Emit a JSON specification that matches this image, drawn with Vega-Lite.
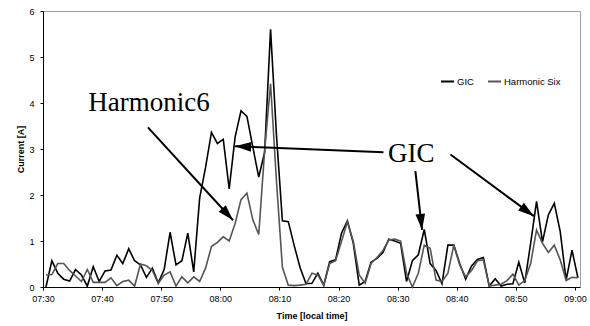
{
  "$schema": "https://vega.github.io/schema/vega-lite/v6.json",
  "width": 537,
  "height": 276,
  "autosize": "none",
  "padding": {"left": 43, "top": 11, "right": 10, "bottom": 39},
  "background": "white",
  "config": {"view": {"stroke": "#a0a0a0", "strokeWidth": 1}, "font": "Liberation Sans"},
  "data": {
    "values": [
      {"time": "2000-01-01T07:30:30", "GIC": 0.00, "Harmonic Six": 0.26},
      {"time": "2000-01-01T07:31:30", "GIC": 0.57, "Harmonic Six": 0.27},
      {"time": "2000-01-01T07:32:30", "GIC": 0.30, "Harmonic Six": 0.51},
      {"time": "2000-01-01T07:33:30", "GIC": 0.17, "Harmonic Six": 0.51},
      {"time": "2000-01-01T07:34:30", "GIC": 0.13, "Harmonic Six": 0.36},
      {"time": "2000-01-01T07:35:30", "GIC": 0.38, "Harmonic Six": 0.24},
      {"time": "2000-01-01T07:36:30", "GIC": 0.26, "Harmonic Six": 0.12},
      {"time": "2000-01-01T07:37:30", "GIC": 0.02, "Harmonic Six": 0.38},
      {"time": "2000-01-01T07:38:30", "GIC": 0.44, "Harmonic Six": 0.10},
      {"time": "2000-01-01T07:39:30", "GIC": 0.12, "Harmonic Six": 0.10},
      {"time": "2000-01-01T07:40:30", "GIC": 0.35, "Harmonic Six": 0.10},
      {"time": "2000-01-01T07:41:30", "GIC": 0.37, "Harmonic Six": 0.20},
      {"time": "2000-01-01T07:42:30", "GIC": 0.69, "Harmonic Six": 0.03},
      {"time": "2000-01-01T07:43:30", "GIC": 0.51, "Harmonic Six": 0.12},
      {"time": "2000-01-01T07:44:30", "GIC": 0.83, "Harmonic Six": 0.15},
      {"time": "2000-01-01T07:45:30", "GIC": 0.57, "Harmonic Six": 0.02},
      {"time": "2000-01-01T07:46:30", "GIC": 0.48, "Harmonic Six": 0.50},
      {"time": "2000-01-01T07:47:30", "GIC": 0.21, "Harmonic Six": 0.46},
      {"time": "2000-01-01T07:48:30", "GIC": 0.41, "Harmonic Six": 0.36},
      {"time": "2000-01-01T07:49:30", "GIC": 0.09, "Harmonic Six": 0.08},
      {"time": "2000-01-01T07:50:30", "GIC": 0.38, "Harmonic Six": 0.26},
      {"time": "2000-01-01T07:51:30", "GIC": 1.19, "Harmonic Six": 0.33},
      {"time": "2000-01-01T07:52:30", "GIC": 0.48, "Harmonic Six": 0.02},
      {"time": "2000-01-01T07:53:30", "GIC": 0.57, "Harmonic Six": 0.22},
      {"time": "2000-01-01T07:54:30", "GIC": 1.17, "Harmonic Six": 0.09},
      {"time": "2000-01-01T07:55:30", "GIC": 0.33, "Harmonic Six": 0.22},
      {"time": "2000-01-01T07:56:30", "GIC": 1.93, "Harmonic Six": 0.12},
      {"time": "2000-01-01T07:57:30", "GIC": 2.60, "Harmonic Six": 0.41},
      {"time": "2000-01-01T07:58:30", "GIC": 3.36, "Harmonic Six": 0.88},
      {"time": "2000-01-01T07:59:30", "GIC": 3.12, "Harmonic Six": 0.97},
      {"time": "2000-01-01T08:00:30", "GIC": 3.21, "Harmonic Six": 1.09},
      {"time": "2000-01-01T08:01:30", "GIC": 2.13, "Harmonic Six": 1.00},
      {"time": "2000-01-01T08:02:30", "GIC": 3.26, "Harmonic Six": 1.38},
      {"time": "2000-01-01T08:03:30", "GIC": 3.83, "Harmonic Six": 1.90},
      {"time": "2000-01-01T08:04:30", "GIC": 3.71, "Harmonic Six": 2.04},
      {"time": "2000-01-01T08:05:30", "GIC": 3.04, "Harmonic Six": 1.46},
      {"time": "2000-01-01T08:06:30", "GIC": 2.39, "Harmonic Six": 1.14},
      {"time": "2000-01-01T08:07:30", "GIC": 2.93, "Harmonic Six": 2.97},
      {"time": "2000-01-01T08:08:30", "GIC": 5.60, "Harmonic Six": 4.42},
      {"time": "2000-01-01T08:09:30", "GIC": 3.30, "Harmonic Six": 2.30},
      {"time": "2000-01-01T08:10:30", "GIC": 1.44, "Harmonic Six": 0.43},
      {"time": "2000-01-01T08:11:30", "GIC": 1.42, "Harmonic Six": 0.04},
      {"time": "2000-01-01T08:12:30", "GIC": 0.90, "Harmonic Six": 0.03},
      {"time": "2000-01-01T08:13:30", "GIC": 0.42, "Harmonic Six": 0.04},
      {"time": "2000-01-01T08:14:30", "GIC": 0.07, "Harmonic Six": 0.06},
      {"time": "2000-01-01T08:15:30", "GIC": 0.08, "Harmonic Six": 0.30},
      {"time": "2000-01-01T08:16:30", "GIC": 0.30, "Harmonic Six": 0.26},
      {"time": "2000-01-01T08:17:30", "GIC": 0.04, "Harmonic Six": 0.04},
      {"time": "2000-01-01T08:18:30", "GIC": 0.55, "Harmonic Six": 0.51},
      {"time": "2000-01-01T08:19:30", "GIC": 0.59, "Harmonic Six": 0.57},
      {"time": "2000-01-01T08:20:30", "GIC": 1.17, "Harmonic Six": 0.99},
      {"time": "2000-01-01T08:21:30", "GIC": 1.44, "Harmonic Six": 1.42},
      {"time": "2000-01-01T08:22:30", "GIC": 0.95, "Harmonic Six": 0.99},
      {"time": "2000-01-01T08:23:30", "GIC": 0.04, "Harmonic Six": 0.26},
      {"time": "2000-01-01T08:24:30", "GIC": 0.12, "Harmonic Six": 0.08},
      {"time": "2000-01-01T08:25:30", "GIC": 0.54, "Harmonic Six": 0.51},
      {"time": "2000-01-01T08:26:30", "GIC": 0.62, "Harmonic Six": 0.64},
      {"time": "2000-01-01T08:27:30", "GIC": 0.75, "Harmonic Six": 0.79},
      {"time": "2000-01-01T08:28:30", "GIC": 1.04, "Harmonic Six": 1.02},
      {"time": "2000-01-01T08:29:30", "GIC": 1.00, "Harmonic Six": 1.04},
      {"time": "2000-01-01T08:30:30", "GIC": 0.95, "Harmonic Six": 1.00},
      {"time": "2000-01-01T08:31:30", "GIC": 0.12, "Harmonic Six": 0.30},
      {"time": "2000-01-01T08:32:30", "GIC": 0.57, "Harmonic Six": 0.00},
      {"time": "2000-01-01T08:33:30", "GIC": 0.70, "Harmonic Six": 0.30},
      {"time": "2000-01-01T08:34:30", "GIC": 1.25, "Harmonic Six": 0.91},
      {"time": "2000-01-01T08:35:30", "GIC": 0.51, "Harmonic Six": 0.84},
      {"time": "2000-01-01T08:36:30", "GIC": 0.36, "Harmonic Six": 0.15},
      {"time": "2000-01-01T08:37:30", "GIC": 0.07, "Harmonic Six": 0.12},
      {"time": "2000-01-01T08:38:30", "GIC": 0.91, "Harmonic Six": 0.30},
      {"time": "2000-01-01T08:39:30", "GIC": 0.91, "Harmonic Six": 0.91},
      {"time": "2000-01-01T08:40:30", "GIC": 0.51, "Harmonic Six": 0.48},
      {"time": "2000-01-01T08:41:30", "GIC": 0.17, "Harmonic Six": 0.22},
      {"time": "2000-01-01T08:42:30", "GIC": 0.46, "Harmonic Six": 0.36},
      {"time": "2000-01-01T08:43:30", "GIC": 0.60, "Harmonic Six": 0.57},
      {"time": "2000-01-01T08:44:30", "GIC": 0.64, "Harmonic Six": 0.59},
      {"time": "2000-01-01T08:45:30", "GIC": 0.02, "Harmonic Six": 0.02},
      {"time": "2000-01-01T08:46:30", "GIC": 0.18, "Harmonic Six": 0.04},
      {"time": "2000-01-01T08:47:30", "GIC": 0.02, "Harmonic Six": 0.06},
      {"time": "2000-01-01T08:48:30", "GIC": 0.06, "Harmonic Six": 0.14},
      {"time": "2000-01-01T08:49:30", "GIC": 0.07, "Harmonic Six": 0.28},
      {"time": "2000-01-01T08:50:30", "GIC": 0.54, "Harmonic Six": 0.04},
      {"time": "2000-01-01T08:51:30", "GIC": 0.09, "Harmonic Six": 0.14},
      {"time": "2000-01-01T08:52:30", "GIC": 0.95, "Harmonic Six": 0.51},
      {"time": "2000-01-01T08:53:30", "GIC": 1.86, "Harmonic Six": 1.24},
      {"time": "2000-01-01T08:54:30", "GIC": 0.98, "Harmonic Six": 0.95},
      {"time": "2000-01-01T08:55:30", "GIC": 1.57, "Harmonic Six": 0.75},
      {"time": "2000-01-01T08:56:30", "GIC": 1.82, "Harmonic Six": 0.91},
      {"time": "2000-01-01T08:57:30", "GIC": 1.21, "Harmonic Six": 0.59},
      {"time": "2000-01-01T08:58:30", "GIC": 0.15, "Harmonic Six": 0.14},
      {"time": "2000-01-01T08:59:30", "GIC": 0.80, "Harmonic Six": 0.21},
      {"time": "2000-01-01T09:00:30", "GIC": 0.20, "Harmonic Six": 0.20}
    ]
  },
  "layer": [
    {
      "transform": [{"fold": ["GIC", "Harmonic Six"], "as": ["series", "value"]}],
      "mark": {"type": "line", "strokeWidth": 1.6},
      "encoding": {
        "x": {
          "field": "time", "type": "temporal",
          "scale": {"domain": [{"year": 2000, "month": 1, "date": 1, "hours": 7, "minutes": 30}, {"year": 2000, "month": 1, "date": 1, "hours": 9, "minutes": 0, "seconds": 51}], "nice": false},
          "axis": {
            "title": "Time [local time]", "format": "%H:%M",
            "values": [
              {"year": 2000, "month": 1, "date": 1, "hours": 7, "minutes": 30},
              {"year": 2000, "month": 1, "date": 1, "hours": 7, "minutes": 40},
              {"year": 2000, "month": 1, "date": 1, "hours": 7, "minutes": 50},
              {"year": 2000, "month": 1, "date": 1, "hours": 8, "minutes": 0},
              {"year": 2000, "month": 1, "date": 1, "hours": 8, "minutes": 10},
              {"year": 2000, "month": 1, "date": 1, "hours": 8, "minutes": 20},
              {"year": 2000, "month": 1, "date": 1, "hours": 8, "minutes": 30},
              {"year": 2000, "month": 1, "date": 1, "hours": 8, "minutes": 40},
              {"year": 2000, "month": 1, "date": 1, "hours": 8, "minutes": 50},
              {"year": 2000, "month": 1, "date": 1, "hours": 9, "minutes": 0}
            ],
            "labelFont": "Liberation Sans", "labelFontSize": 9, "labelColor": "#000", "labelPadding": 4,
            "labelFlush": false, "labelOverlap": false,
            "tickSize": 3, "tickColor": "#000", "domainColor": "#000", "grid": false,
            "titleFont": "Liberation Sans", "titleFontSize": 9, "titleFontWeight": "bold", "titleColor": "#000", "titlePadding": 8
          }
        },
        "y": {
          "field": "value", "type": "quantitative",
          "scale": {"domain": [0, 6], "nice": false},
          "axis": {
            "title": "Current [A]", "values": [0, 1, 2, 3, 4, 5, 6],
            "labelFont": "Liberation Sans", "labelFontSize": 9, "labelColor": "#000", "labelPadding": 6,
            "tickSize": 3, "tickColor": "#000", "domainColor": "#000", "grid": false,
            "titleFont": "Liberation Sans", "titleFontSize": 9, "titleFontWeight": "bold", "titleColor": "#000", "titlePadding": 3
          }
        },
        "color": {
          "field": "series", "type": "nominal",
          "scale": {"domain": ["GIC", "Harmonic Six"], "range": ["#000000", "#555555"]},
          "legend": {
            "orient": "none", "legendX": 397, "legendY": 63, "direction": "horizontal", "title": null,
            "symbolType": "stroke", "symbolSize": 169, "symbolStrokeWidth": 2,
            "labelFont": "Liberation Sans", "labelFontSize": 9.5, "labelColor": "#000", "labelOffset": 2,
            "columnPadding": 10, "padding": 0
          }
        }
      }
    },
    {
      "data": {
        "values": [
          {"arrow": 1, "x1": "2000-01-01T07:47:45", "y1": 3.47, "x2": "2000-01-01T08:02:09", "y2": 1.45},
          {"arrow": 2, "x1": "2000-01-01T08:27:36", "y1": 2.93, "x2": "2000-01-01T08:02:30", "y2": 3.06},
          {"arrow": 3, "x1": "2000-01-01T08:33:00", "y1": 2.52, "x2": "2000-01-01T08:34:08", "y2": 1.24},
          {"arrow": 4, "x1": "2000-01-01T08:38:56", "y1": 2.88, "x2": "2000-01-01T08:53:03", "y2": 1.54}
        ]
      },
      "layer": [
        {
          "mark": {"type": "rule", "color": "#000", "strokeWidth": 2},
          "encoding": {
            "x": {"field": "x1", "type": "temporal"},
            "y": {"field": "y1", "type": "quantitative"},
            "x2": {"field": "x2"},
            "y2": {"field": "y2"}
          }
        },
        {
          "transform": [{"filter": "datum.arrow == 1"}],
          "mark": {"type": "point", "shape": "M0,0L-0.6,2L0.6,2Z", "filled": true, "color": "#000", "opacity": 1, "size": 256, "angle": 137.6},
          "encoding": {"x": {"field": "x2", "type": "temporal"}, "y": {"field": "y2", "type": "quantitative"}}
        },
        {
          "transform": [{"filter": "datum.arrow == 2"}],
          "mark": {"type": "point", "shape": "M0,0L-0.6,2L0.6,2Z", "filled": true, "color": "#000", "opacity": 1, "size": 256, "angle": 272.3},
          "encoding": {"x": {"field": "x2", "type": "temporal"}, "y": {"field": "y2", "type": "quantitative"}}
        },
        {
          "transform": [{"filter": "datum.arrow == 3"}],
          "mark": {"type": "point", "shape": "M0,0L-0.6,2L0.6,2Z", "filled": true, "color": "#000", "opacity": 1, "size": 256, "angle": 173.5},
          "encoding": {"x": {"field": "x2", "type": "temporal"}, "y": {"field": "y2", "type": "quantitative"}}
        },
        {
          "transform": [{"filter": "datum.arrow == 4"}],
          "mark": {"type": "point", "shape": "M0,0L-0.6,2L0.6,2Z", "filled": true, "color": "#000", "opacity": 1, "size": 256, "angle": 126.5},
          "encoding": {"x": {"field": "x2", "type": "temporal"}, "y": {"field": "y2", "type": "quantitative"}}
        }
      ]
    },
    {
      "data": {
        "values": [
          {"label": "Harmonic6", "x": "2000-01-01T07:47:56", "y": 3.82},
          {"label": "GIC", "x": "2000-01-01T08:32:19", "y": 2.72}
        ]
      },
      "mark": {"type": "text", "font": "Liberation Serif", "fontSize": 27, "color": "#000", "align": "center", "baseline": "alphabetic"},
      "encoding": {
        "x": {"field": "x", "type": "temporal"},
        "y": {"field": "y", "type": "quantitative"},
        "text": {"field": "label"}
      }
    }
  ]
}
